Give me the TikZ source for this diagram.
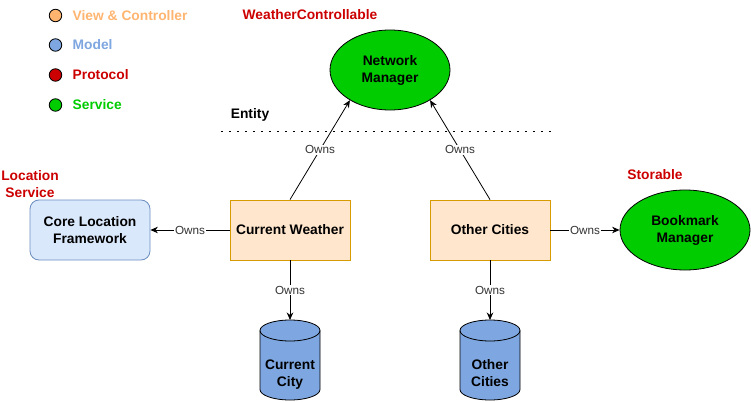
\documentclass[tikz,border=0pt]{standalone}
\usepackage{fontspec}
\setmainfont{Liberation Sans}
\usetikzlibrary{shapes.geometric,arrows.meta}
\definecolor{vcol}{HTML}{FFB570}
\definecolor{mcol}{HTML}{7EA6E0}
\definecolor{pcol}{HTML}{CC0000}
\definecolor{scol}{HTML}{00CC00}
\definecolor{entfill}{HTML}{FFE6CC}
\definecolor{entdraw}{HTML}{D79B00}
\definecolor{clfill}{HTML}{DAE8FC}
\definecolor{cldraw}{HTML}{6C8EBF}
\definecolor{lblcol}{HTML}{333333}
\tikzset{
  x=1pt, y=-1pt,
  txt/.style={font=\fontsize{13.8}{17}\selectfont\bfseries},
  legdot/.style={circle, draw=black, line width=0.8pt, minimum size=12.5pt, inner sep=0pt},
  legtxt/.style={txt, anchor=west, inner sep=0pt},
  entbox/.style={draw=entdraw, fill=entfill, line width=0.8pt, minimum width=120pt, minimum height=60pt, inner sep=0pt, txt, align=center},
  svc/.style={ellipse, draw=black, fill=scol, line width=0.8pt, inner sep=0pt, txt, align=center},
  dbline/.style={draw=black, line width=0.8pt},
  arr/.style={-{Stealth[length=7.5pt,width=6.5pt]}, line width=0.8pt},
  own/.style={fill=white, text=lblcol, font=\fontsize{11.7}{13}\selectfont, inner sep=1pt},
}
\begin{document}
\begin{tikzpicture}
\useasboundingbox (0,0) rectangle (751,401);
% legend
\node[legdot, fill=vcol] (d1) at (55.5,15.5) {};
\node[legdot, fill=mcol] (d2) at (55.5,45) {};
\node[legdot, fill=pcol] (d3) at (55.5,75) {};
\node[legdot, fill=scol] (d4) at (55.5,105) {};
\node[legtxt, text=vcol] (t1) at (72.5,15.5) {View \& Controller};
\node[legtxt, text=mcol] (t2) at (72.5,45) {Model};
\node[legtxt, text=pcol] (t3) at (72.5,75) {Protocol};
\node[legtxt, text=scol] (t4) at (72.5,105) {Service};
% protocol labels
\node[txt, text=pcol] (wc) at (310,15) {WeatherControllable};
\node[txt, text=pcol, align=center] (ls) at (30,184.5) {Location\\Service};
\node[txt, text=pcol] (st) at (655,175) {Storable};
% entity
\node[txt] (ent) at (250,115) {Entity};
\coordinate (dl) at (221,131.5);
\coordinate (dr) at (551,131.5);
\draw[line width=1.6pt, dash pattern=on 1.6pt off 6.4pt] (dl) -- (dr);
% nodes
\node[svc, minimum width=120pt, minimum height=80pt] (nm) at (390,70) {Network\\Manager};
\node[svc, minimum width=130pt, minimum height=80pt] (bm) at (685,230) {Bookmark\\Manager};
\node[entbox] (cw) at (290,230) {Current Weather};
\node[entbox] (oc) at (490,230) {Other Cities};
\node[draw=cldraw, fill=clfill, rounded corners=9pt, line width=0.8pt, minimum width=120pt, minimum height=60pt, inner sep=0pt, txt, align=center] (cl) at (90,230) {Core Location\\Framework};
% cylinders
\foreach \cx in {290,490}{
  \path[dbline, fill=mcol] (\cx-30,330.5) -- (\cx-30,389.5)
    arc[start angle=180, end angle=0, x radius=30, y radius=10.5]
    -- (\cx+30,330.5)
    arc[start angle=0, end angle=-180, x radius=30, y radius=10.5] -- cycle;
  \draw[dbline] (\cx-30,330.5) arc[start angle=180, end angle=0, x radius=30, y radius=10.5];
}
\node[txt, align=center] (cc) at (290,375) {Current\strut\\City\strut};
\node[txt, align=center] (ocd) at (490,375) {Other\strut\\Cities\strut};
\coordinate (cctop) at (290,320);
\coordinate (ocdtop) at (490,320);
% connectors
\draw[arr] (cw.north) -- node[own] {Owns} (nm.217);
\draw[arr] (oc.north) -- node[own] {Owns} (nm.-37);
\draw[arr] (cw.west) -- node[own] {Owns} (cl.east);
\draw[arr] (oc.east) -- node[own] {Owns} (bm.west);
\draw[arr] (cw.south) -- node[own] {Owns} (cctop);
\draw[arr] (oc.south) -- node[own] {Owns} (ocdtop);
\end{tikzpicture}
\end{document}
